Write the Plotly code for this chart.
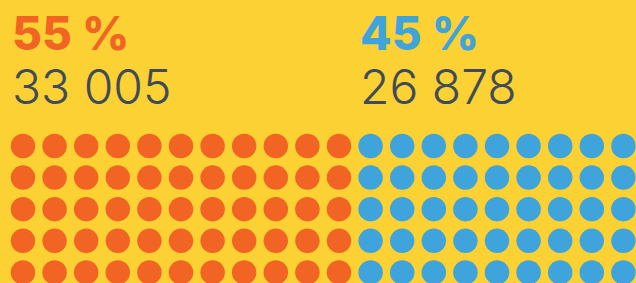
import plotly.graph_objects as go

# ---- data ----
groups = ["A", "B"]
shares = [55, 45]            # percent
counts = [33005, 26878]
share_labels = ["55 %", "45 %"]
count_labels = ["33 005", "26 878"]
colors = ["#F26424", "#3FA3DC"]
n_rows = 5                   # 100 dots = 20 columns x 5 rows, 1 dot = 1 %

BG = "#FCD134"
TEXT = "#3F4B57"

fig = go.Figure()
col_start = 0
for g, s, c in zip(groups, shares, colors):
    n_cols = s // n_rows
    xs, ys = [], []
    for k in range(n_cols):
        for r in range(n_rows):
            xs.append(col_start + k)
            ys.append(r)
    fig.add_trace(go.Scatter(x=xs, y=ys, mode="markers", name=g,
                             marker=dict(size=24.5, color=c, line=dict(width=0)),
                             hoverinfo="skip", showlegend=False))
    col_start += n_cols

W, H = 636, 283
step = 31.6
x0, y0 = 23.0, 146.0
fig.update_xaxes(range=[-x0 / step, (W - x0) / step], visible=False, fixedrange=True)
fig.update_yaxes(range=[(H - y0) / step, -y0 / step], visible=False, fixedrange=True)

text_x = [10 / W, 358 / W]
for tx, sl, cl, c in zip(text_x, share_labels, count_labels, colors):
    fig.add_annotation(x=tx, y=1 - 33 / H, xref="paper", yref="paper",
                       xanchor="left", yanchor="middle", showarrow=False, height=50,
                       text=sl, font=dict(family="Inter", size=46, color=c, weight=800))
    fig.add_annotation(x=tx, y=1 - 86 / H, xref="paper", yref="paper",
                       xanchor="left", yanchor="middle", showarrow=False, height=50,
                       text=cl, font=dict(family="Inter", size=48, color=TEXT, weight=300))

fig.update_layout(width=W, height=H, margin=dict(l=0, r=0, t=0, b=0),
                  paper_bgcolor=BG, plot_bgcolor=BG)
fig.write_html("out.html", post_script="document.body.style.margin='0';",
               config={"displayModeBar": False})
